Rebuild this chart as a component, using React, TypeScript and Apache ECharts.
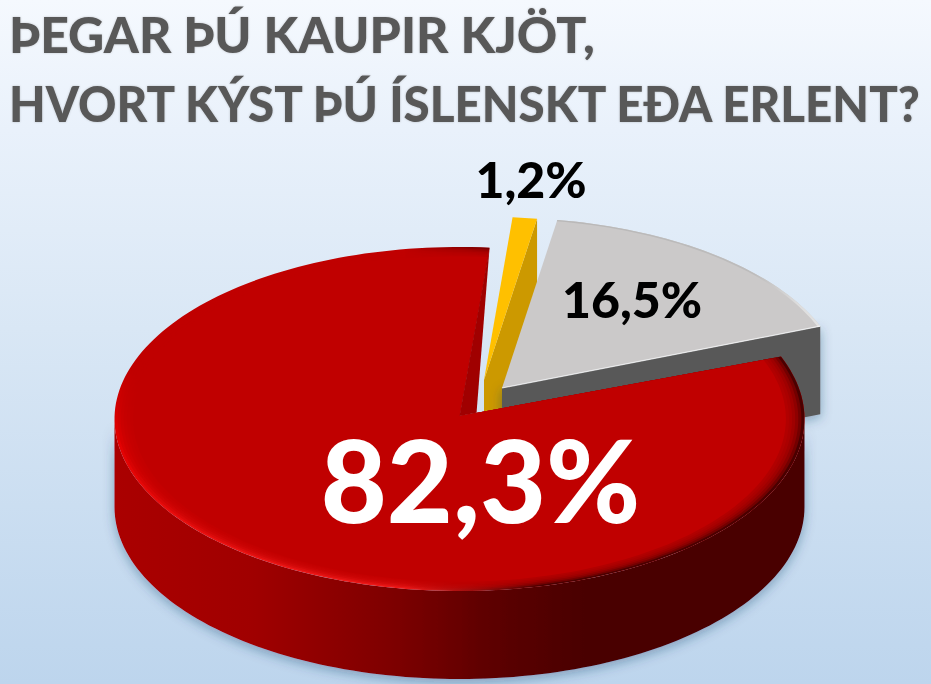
import React, { useEffect, useRef } from "react";
import * as echarts from "echarts";

const titleLines = ["ÞEGAR ÞÚ KAUPIR KJÖT,", "HVORT KÝST ÞÚ ÍSLENSKT EÐA ERLENT?"];
const categories = ["Annað", "Erlent", "Íslenskt"];
const values = [1.2, 16.5, 82.3];

const START_ANGLE = 5;
const CX = 459.5, CY = 419, RX = 345, RY = 172, DEPTH = 88;
const TITLE_SCALES = [1.02, 0.97];

const looks = [
  { ox: 24.5, oy: -39, ax: 0, ay: 0, r: 0.95, face: "#ffc000", wall: "#cc9900", label: "#000", size: 50, lx: 531, ly: 179 },
  { ox: 42.5, oy: -31, ax: 0, ay: 0, r: 0.99, face: "#cbc9c9", wall: "#595959", label: "#000", size: 50, lx: 632, ly: 299 },
  { ox: 0, oy: 0, ax: 0, ay: -3, r: 1, face: "#c00000", wall: "#a00000", label: "#fff", size: 114, lx: 480.5, ly: 478 },
];

const total = values.reduce((a, b) => a + b, 0);
const starts: number[] = [];
values.reduce((acc, v, i) => {
  starts[i] = acc;
  return acc + (v / total) * 360;
}, START_ANGLE);

const pt = (x: number, y: number, r: number, deg: number): number[] => {
  const t = (deg * Math.PI) / 180;
  return [x + r * RX * Math.sin(t), y - r * RY * Math.cos(t)];
};

const arc = (x: number, y: number, r: number, a: number, b: number): number[][] => {
  const n = Math.max(2, Math.ceil(Math.abs(b - a) / 1.5));
  const out: number[][] = [];
  for (let i = 0; i <= n; i++) out.push(pt(x, y, r, a + ((b - a) * i) / n));
  return out;
};

const lin = (x2: number, y2: number, stops: [number, string][]) => ({
  type: "linear",
  x: 0,
  y: 0,
  x2,
  y2,
  colorStops: stops.map(([offset, color]) => ({ offset, color })),
});

const renderSlice = (params: any, api: any) => {
  const i = params.dataIndex;
  const value = api.value(0);
  const g = looks[i];
  const a = starts[i];
  const b = a + (value / total) * 360;
  const x = CX + g.ox;
  const y = CY + g.oy;
  const apex = [x + g.ax, y + g.ay];
  const O = pt(x, y, g.r, a);
  const E = pt(x, y, g.r, b);
  const sector = (s: number) => [apex, ...arc(x, y, g.r * s, a, b)];
  const children: any[] = [];
  const shadow = { shadowBlur: 12, shadowColor: "rgba(30,60,100,0.4)", shadowOffsetY: 3 };

  if (i < 2) {
    // the visible cut wall drops straight down from the clockwise edge of the top face
    children.push({
      type: "polygon",
      shape: { points: [apex, E, [E[0], E[1] + DEPTH], [apex[0], apex[1] + DEPTH]] },
      style: { fill: g.wall, ...(i === 1 ? shadow : {}) },
    });
    children.push({ type: "polygon", shape: { points: sector(1) }, style: { fill: g.face } });
    if (i === 1) {
      children.push({
        type: "polygon",
        shape: { points: [...arc(x, y, g.r, a, b), ...arc(x, y, g.r * 0.992, b, a)] },
        style: {
          fill: lin(1, 0, [
            [0, "#b9b8b8"],
            [0.75, "#bdbcbc"],
            [0.92, "#dedede"],
            [1, "#e2e2e2"],
          ]),
        },
      });
      children.push({
        type: "line",
        shape: { x1: apex[0], y1: apex[1], x2: E[0], y2: E[1] },
        style: { stroke: "rgba(255,255,255,0.7)", lineWidth: 1.2 },
      });
    }
  } else {
    // outer wall: only the front half of the ellipse faces the viewer
    const top = arc(x, y, g.r, 90, 270);
    const bottom = arc(x, y + DEPTH, g.r, 270, 90);
    children.push({
      type: "polygon",
      shape: { points: [...top, ...bottom] },
      style: {
        fill: lin(1, 0, [
          [0, "#aa0000"],
          [0.2, "#a00000"],
          [0.4, "#7e0000"],
          [0.55, "#5c0000"],
          [0.68, "#4a0000"],
          [1, "#4a0000"],
        ]),
        ...shadow,
      },
    });
    children.push({
      type: "polygon",
      shape: { points: sector(1) },
      style: {
        fill: lin(0, 1, [
          [0, "#c00000"],
          [0.36, "#c00000"],
          [0.55, "#e20000"],
          [1, "#ee1a1a"],
        ]),
      },
    });
    children.push({
      type: "polygon",
      shape: { points: sector(1) },
      style: {
        fill: lin(1, 0, [
          [0, "rgba(74,0,0,0)"],
          [0.42, "rgba(74,0,0,0)"],
          [0.62, "rgba(74,0,0,1)"],
          [1, "rgba(74,0,0,1)"],
        ]),
      },
    });
    for (let k = 1; k <= 6; k++) {
      children.push({
        type: "polygon",
        shape: { points: sector(1 - k * 0.009) },
        style: { fill: g.face, opacity: k === 6 ? 1 : 0.35 },
      });
    }
    // inner wall seen through the notch, meeting the other cut edge
    const t = 0.053;
    children.push({
      type: "polygon",
      shape: { points: [E, apex, [apex[0] + (O[0] - apex[0]) * t, apex[1] + (O[1] - apex[1]) * t]] },
      style: { fill: g.wall },
    });
  }

  children.push({
    type: "text",
    style: {
      text: value.toFixed(1).replace(".", ",") + "%",
      x: g.lx,
      y: g.ly,
      fill: g.label,
      fontFamily: "Lato",
      fontWeight: 900,
      fontSize: g.size,
      textAlign: "center",
      textVerticalAlign: "middle",
    },
  });
  return { type: "group", children };
};

export default function App() {
  const ref = useRef<HTMLDivElement>(null);
  useEffect(() => {
    document.body.style.margin = "0";
    document.body.style.overflow = "hidden";
    const chart = echarts.init(ref.current!, undefined, { renderer: "svg", width: 931, height: 684 });
    chart.setOption({
      animation: false,
      backgroundColor: lin(0, 1, [
        [0, "#f5f9fe"],
        [0.19, "#e9f1fb"],
        [0.48, "#d9e7f5"],
        [1, "#bdd5ed"],
      ]),
      graphic: titleLines.map((text, i) => ({
        type: "text",
        x: 9,
        y: 10 + i * 68.5,
        scaleX: TITLE_SCALES[i],
        style: {
          text,
          fill: "#595959",
          fontFamily: "Lato",
          fontWeight: 900,
          fontSize: 49,
          textAlign: "left",
          textShadowColor: "rgba(0,0,0,0.2)",
          textShadowBlur: 2,
        },
      })),
      series: [
        {
          type: "custom",
          coordinateSystem: "none",
          silent: true,
          clip: false,
          data: values.map((v, i) => ({ name: categories[i], value: [v] })),
          renderItem: renderSlice,
        },
      ],
    });
    return () => chart.dispose();
  }, []);
  return <div ref={ref} style={{ width: 931, height: 684 }} />;
}
